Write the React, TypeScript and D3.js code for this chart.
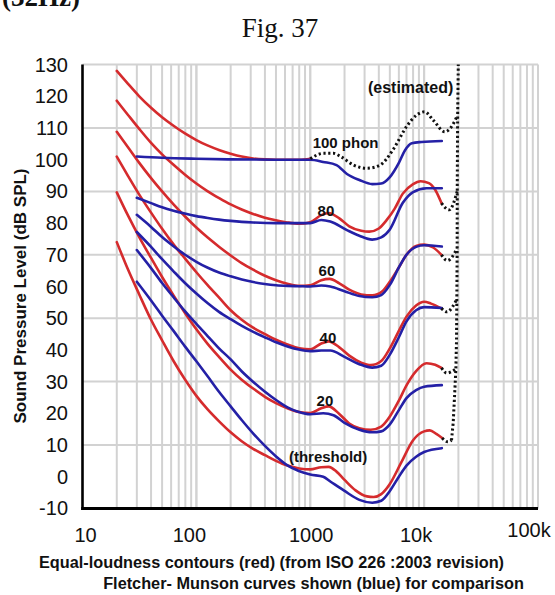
import React from 'react';
import * as d3 from 'd3';

type P = [number, number];

const W = 555;
const H = 595;

// axis ticks
const yTickValues = [130, 120, 110, 100, 90, 80, 70, 60, 50, 40, 30, 20, 10, 0, -10];
const xTickValues = [10, 100, 1000, 10000, 100000];
const xTickLabels = ['10', '100', '1000', '10k', '100k'];
const hGridValues = [130, 110, 90, 70, 50, 30, 10];

// ISO 226 contours (red)
const redThreshold: P[] = [[20,74],[25,65.5],[31.5,57.5],[40,49.5],[50,43],[63,36.5],[80,30.5],[100,25.5],[125,21.3],[160,17.3],[200,14],[250,11.2],[315,8.8],[400,6.8],[500,5],[630,3.5],[800,2.6],[1000,2.3],[1250,3],[1450,3.1],[1700,1.6],[2000,-1],[2500,-4.3],[3150,-6.2],[3600,-6.4],[4200,-5.5],[5000,-2.3],[6300,4.5],[8000,11.5],[10000,14.3],[11200,14.6],[12800,13.5],[14400,12.2]];
const red20: P[] = [[20,89.7],[25,82.5],[31.5,75.6],[40,69],[50,63],[63,57.2],[80,51.5],[100,46.5],[125,42],[160,37.6],[200,33.8],[250,30.6],[315,27.8],[400,25.2],[500,23.2],[630,21.6],[800,20.4],[1000,20.1],[1250,21.6],[1450,22.2],[1800,19.8],[2200,16.8],[2700,15.3],[3400,14.8],[4200,15.8],[5000,19],[6000,24],[7000,28.8],[8500,33.3],[10500,35.8],[12500,35.3],[14200,34.3]];
const red40: P[] = [[20,101],[25,95],[31.5,89],[40,83.3],[50,78.2],[63,73.3],[80,68.7],[100,64.5],[125,60.5],[160,56.3],[200,52.5],[250,49.5],[315,47],[400,45],[500,43.2],[630,41.7],[800,40.5],[1000,40.2],[1250,42],[1450,42.7],[1800,40.8],[2200,38.2],[2800,36],[3400,35.2],[4200,36.5],[5000,40.5],[6000,46],[7000,50.5],[8500,54],[10000,55.2],[11500,54.6],[14200,53.1]];
const red60: P[] = [[20,108.8],[25,104],[31.5,99],[40,94.2],[50,90],[63,85.9],[80,82],[100,78.6],[125,75.5],[160,72.4],[200,69.8],[250,67.4],[315,65.3],[400,63.4],[500,62],[630,60.9],[800,60.2],[1000,60.4],[1250,62],[1480,62.4],[1800,61],[2200,59],[2800,57.5],[3500,57.2],[4300,58.5],[5000,61.5],[6000,66],[7000,70],[8500,72.8],[10000,73.2],[12000,72.3],[14200,70]];
const red80: P[] = [[20,118.6],[25,114.2],[31.5,109.7],[40,105.3],[50,101.7],[63,98.4],[80,95.2],[100,92.5],[125,90.1],[160,87.8],[200,85.9],[250,84.3],[315,82.9],[400,81.7],[500,80.9],[630,80.2],[800,79.8],[1000,80.3],[1250,82.5],[1450,83.2],[1800,81.5],[2200,79],[2800,77.6],[3300,77.3],[4000,78.3],[4700,81],[5500,84.5],[6500,89.3],[8000,92.3],[9300,93.2],[11000,92.6],[12500,90.5],[14200,86.3]];
const red100: P[] = [[20,128],[25,124],[31.5,120],[40,116.4],[50,113.4],[63,110.7],[80,108.2],[100,106.2],[125,104.5],[160,103],[200,101.9],[250,101],[315,100.4],[400,100.1],[500,100],[630,100],[800,100],[1000,100.3]];

// estimated (dotted) parts
const est100: P[] = [[1000,100.3],[1300,102],[1600,102],[1850,101],[2400,98.3],[3150,97.3],[4100,98.3],[5300,103],[7000,110.4],[8600,114.1],[10100,115.1],[12000,112.5],[15200,108.8],[17400,110.4],[19400,113.6]];
const est80: P[] = [[14200,86.3],[16600,84.2],[19520,90]];
const est60: P[] = [[14200,70],[16000,68.2],[19500,72]];
const est40: P[] = [[14200,53.1],[15800,52],[19380,56]];
const est20: P[] = [[14200,34.3],[15800,32.7],[19000,34]];
const estThreshold: P[] = [[14400,12.2],[16200,11],[17400,11.5]];
const estLimit: P[] = [[17400,11.5],[18000,17],[18600,27],[19000,34],[19250,43],[19400,59],[19500,72],[19550,93],[19700,114],[19950,130]];

// Fletcher-Munson curves (blue)
const blueThreshold: P[] = [[30,61.5],[40,55.6],[50,50.8],[63,46],[79,41.2],[100,36.4],[126,31.6],[158,26.8],[200,22.2],[251,17.8],[316,13.6],[398,9.8],[501,6.4],[631,3.6],[794,1.8],[1000,0.7],[1300,0],[1500,-1.5],[2000,-4.5],[2700,-7.3],[3500,-8.2],[4200,-7.6],[5000,-4.5],[6000,0],[7000,3.5],[8500,6.3],[10000,7.8],[14300,9]];
const blue20: P[] = [[30,71.5],[40,65.8],[50,61.1],[63,56.6],[79,52.3],[100,48.2],[126,44.3],[158,40.5],[200,37],[251,33.2],[316,29.9],[398,26.9],[501,24.2],[631,21.9],[794,20.4],[1000,19.7],[1300,20],[1600,19.4],[2000,17],[2700,14.8],[3500,14],[4200,14.3],[5000,16.5],[6000,21],[7000,24.8],[8500,27.3],[10000,28.4],[14300,28.9]];
const blue40: P[] = [[30,77.2],[40,72.5],[50,68.6],[63,64.8],[79,61.2],[100,57.8],[126,54.7],[158,52],[200,49.7],[251,47.6],[316,45.7],[398,44],[501,42.4],[631,41.1],[794,40.1],[1000,39.6],[1250,39.8],[1500,39.8],[2000,37.8],[2700,35.5],[3500,34.4],[4200,35],[5000,38.5],[6000,44],[7000,49],[8500,52.5],[10000,53.5],[14300,53.2]];
const blue60: P[] = [[30,82.6],[40,78.8],[50,75.6],[63,72.7],[79,70.1],[100,67.8],[126,65.9],[158,64.4],[200,63.2],[251,62.2],[316,61.4],[398,60.8],[501,60.4],[631,60.2],[794,60.1],[1000,60],[1250,60.3],[1500,60],[2000,58.5],[2700,57],[3500,56.6],[4200,57.3],[5000,60.5],[6000,66],[7000,70],[8500,72.5],[10000,73],[14300,72.6]];
const blue80: P[] = [[30,88],[40,86.3],[50,85],[63,83.9],[79,83],[100,82.2],[126,81.6],[158,81.1],[200,80.7],[251,80.4],[316,80.2],[501,80],[1000,80],[1250,81],[1500,80.5],[2100,77.8],[2700,76],[3500,74.8],[4200,75.5],[5000,78],[6500,86.4],[8000,89.8],[10500,91],[14300,91]];
const blue100: P[] = [[30,101],[50,100.6],[100,100.3],[200,100.1],[500,100],[1000,100],[1300,99.3],[1700,98.3],[2100,95.5],[2700,93.6],[3500,92.3],[4200,92.5],[5000,94.5],[6000,99],[6800,103],[7800,105.2],[9500,105.6],[14300,105.9]];

const annotationTexts = ['100 phon', '80', '60', '40', '20', '(threshold)', '(estimated)'];
const annotationAt: P[] = [[1050,103.7],[1374,82.2],[1402,63.3],[1430,42.2],[1345,22.3],[650,4.6],[3211,121]];
const annotationAnchor = ['start', 'middle', 'middle', 'middle', 'middle', 'start', 'start'];

const RED = '#d52b2d';
const BLUE = '#2420a6';
const GRID = '#d2d2d2';
const SANS = '"Liberation Sans", Arial, Helvetica, sans-serif';
const SERIF = '"Liberation Serif", "Times New Roman", serif';

export default function App() {
  const x = d3.scaleLog().domain([10, 100000]).range([82.5, 538]);
  const y = d3.scaleLinear().domain([-10, 130]).range([508.4, 64.6]);
  const line = d3.line<P>().x(d => x(d[0])).y(d => y(d[1])).curve(d3.curveMonotoneX);
  const lineLin = d3.line<P>().x(d => x(d[0])).y(d => y(d[1]));

  const vGrid: number[] = [];
  for (let dec = 10; dec < 100000; dec *= 10) {
    for (let m = 1; m <= 10; m++) {
      const v = dec * m;
      if (v > 10) vGrid.push(v);
    }
  }

  const reds = [redThreshold, red20, red40, red60, red80, red100];
  const blues = [blueThreshold, blue20, blue40, blue60, blue80, blue100];
  const dotted = [est100, est80, est60, est40, est20, estThreshold];
  const xLabelDx = [3, -7, 1, -8, -9];
  const xLabelDy = [0, 0, 0, 0, -5];

  return (
    <svg width={W} height={H} viewBox={`0 0 ${W} ${H}`} style={{ position: 'absolute', left: 0, top: 0, background: '#fff' }}>
      <rect x={0} y={0} width={W} height={H} fill="#fff" />
      <text x={80} y={6} textAnchor="end" fontFamily={SERIF} fontWeight="bold" fontSize={27} fill="#111">(32Hz)</text>
      <text x={280} y={37} textAnchor="middle" fontFamily={SERIF} fontSize={27} fill="#111">Fig. 37</text>

      {/* grid */}
      {vGrid.map(v => (
        <line key={'v' + v} x1={x(v)} x2={x(v)} y1={y(130)} y2={y(-10)} stroke={GRID} strokeWidth={2} />
      ))}
      {hGridValues.map(v => (
        <line key={'h' + v} x1={x(10)} x2={x(100000)} y1={y(v)} y2={y(v)} stroke={GRID} strokeWidth={2} />
      ))}

      {/* curves */}
      {reds.map((d, i) => (
        <path key={'r' + i} d={line(d) || ''} fill="none" stroke={RED} strokeWidth={2.6} strokeLinecap="round" />
      ))}
      {blues.map((d, i) => (
        <path key={'b' + i} d={line(d) || ''} fill="none" stroke={BLUE} strokeWidth={2.6} strokeLinecap="round" />
      ))}
      {dotted.map((d, i) => (
        <path key={'d' + i} d={line(d) || ''} fill="none" stroke="#111" strokeWidth={3} strokeDasharray="2.2 2.6" />
      ))}
      <path d={lineLin(estLimit) || ''} fill="none" stroke="#111" strokeWidth={3} strokeDasharray="2.2 2.6" />

      {/* axes */}
      <line x1={x(10)} x2={x(10)} y1={y(130)} y2={y(-10) + 1.5} stroke="#000" strokeWidth={2.6} />
      <line x1={x(10) - 1.3} x2={x(100000)} y1={y(-10)} y2={y(-10)} stroke="#000" strokeWidth={3} />

      {/* y ticks */}
      {yTickValues.map(v => (
        <text key={'yt' + v} x={68} y={y(v) + 7} textAnchor="end" fontFamily={SANS} fontSize={20} fill="#111">{v}</text>
      ))}
      {/* x ticks */}
      {xTickValues.map((v, i) => (
        <text key={'xt' + v} x={x(v) + xLabelDx[i]} y={542 + xLabelDy[i]} textAnchor="middle" fontFamily={SANS} fontSize={20} fill="#111">{xTickLabels[i]}</text>
      ))}

      {/* annotations */}
      {annotationTexts.map((t, i) => (
        <text key={'a' + i} x={x(annotationAt[i][0])} y={y(annotationAt[i][1])} textAnchor={annotationAnchor[i] as any} fontFamily={SANS} fontWeight="bold" fontSize={i === 6 ? 16 : 15} fill="#111">{t}</text>
      ))}

      {/* axis titles */}
      <text transform="translate(26,296) rotate(-90)" textAnchor="middle" fontFamily={SANS} fontWeight="bold" fontSize={17} fill="#111">Sound Pressure Level (dB SPL)</text>
      <text x={271.5} y={568} textAnchor="middle" fontFamily={SANS} fontWeight="bold" fontSize={16.3} fill="#111">Equal-loudness contours (red) (from ISO 226 :2003 revision)</text>
      <text x={313.5} y={589} textAnchor="middle" fontFamily={SANS} fontWeight="bold" fontSize={16.3} fill="#111">Fletcher- Munson curves shown (blue) for comparison</text>
    </svg>
  );
}
